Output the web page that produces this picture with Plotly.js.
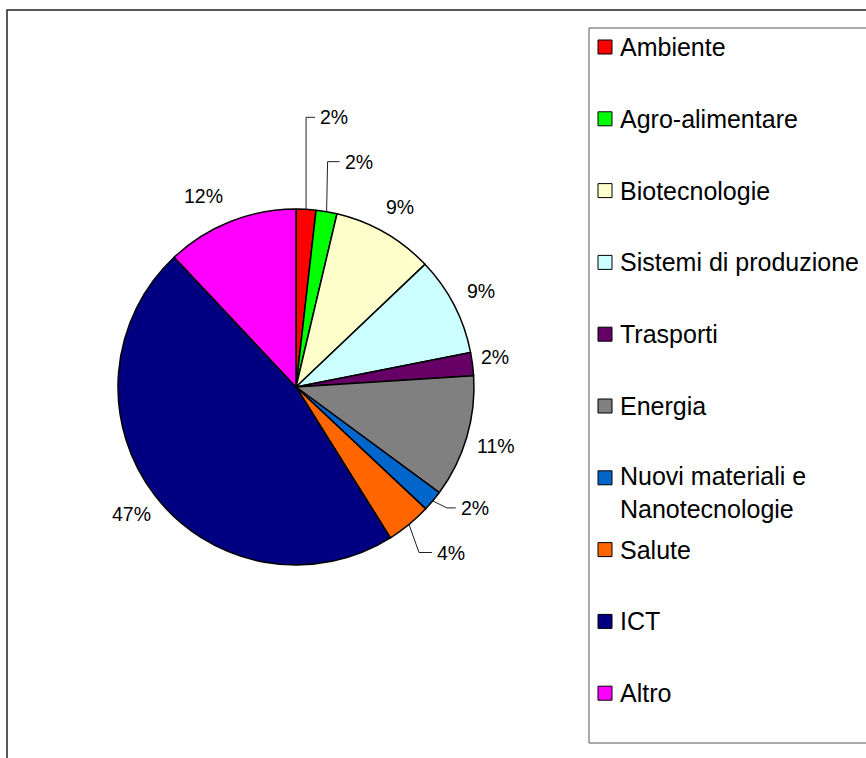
<!DOCTYPE html>
<html>
<head>
<meta charset="utf-8">
<script src="https://cdn.plot.ly/plotly-3.0.1.min.js"></script>
<style>html,body{margin:0;padding:0;background:#fff;}#chart{width:866px;height:758px;}</style>
</head>
<body>
<div id="chart"></div>
<script>
// ---- data ----
const categories = ["Ambiente", "Agro-alimentare", "Biotecnologie", "Sistemi di produzione", "Trasporti", "Energia", "Nuovi materiali e Nanotecnologie", "Salute", "ICT", "Altro"];
const values = [1.8, 1.9, 9.2, 9.0, 2.1, 11.1, 1.9, 4.1, 46.9, 12.0];
const colors = ["#FF0000", "#00FF00", "#FFFFCC", "#CCFFFF", "#660066", "#808080", "#0066CC", "#FF6600", "#000080", "#FF00FF"];

// ---- layout constants (pixels) ----
const W = 866, H = 758;
const CX = 296, CY = 387, R = 178;       // pie centre and radius
const LABEL_R = 208;                      // radius of label centres
const FONT = "Liberation Sans, Arial, sans-serif";
// leader-line labels: bend and end offsets from the slice edge point
const leaders = {
  0: {bend: [0, -92], end: [9, -92]},
  1: {bend: [1, -50], end: [13, -50]},
  6: {bend: [14, 7], end: [23, 7]},
  7: {bend: [10, 28], end: [23, 28]}
};
const nudges = {4: [-7, -3], 9: [-16, 2]};

function px(x) { return x / W; }
function py(y) { return 1 - y / H; }

const total = values.reduce((a, b) => a + b, 0);
const annotations = [];
const shapes = [];

// outer chart frame and legend box
shapes.push({type: "rect", xref: "paper", yref: "paper", x0: px(7), x1: px(W + 20), y0: py(10), y1: py(H + 20),
  line: {color: "#222", width: 1.5}, fillcolor: "rgba(0,0,0,0)", layer: "below"});
shapes.push({type: "rect", xref: "paper", yref: "paper", x0: px(589), x1: px(W + 20), y0: py(28), y1: py(743),
  line: {color: "#555", width: 1}, fillcolor: "rgba(0,0,0,0)", layer: "below"});

// pie labels
let cum = 0;
values.forEach((v, i) => {
  const mid = (cum + v / 2) / total * 2 * Math.PI;
  cum += v;
  const s = Math.sin(mid), c = Math.cos(mid);
  const text = Math.round(v / total * 100) + "%";
  const font = {family: FONT, size: 19.5, color: "#000"};
  if (leaders[i]) {
    const ex = CX + R * s, ey = CY - R * c;
    const b = leaders[i].bend, e = leaders[i].end;
    shapes.push({type: "path", xref: "paper", yref: "paper",
      path: `M ${px(ex)},${py(ey)} L ${px(ex + b[0])},${py(ey + b[1])} L ${px(ex + e[0])},${py(ey + e[1])}`,
      line: {color: "#222", width: 1}});
    annotations.push({xref: "paper", yref: "paper", x: px(ex + e[0] + 4), y: py(ey + e[1]),
      xanchor: "left", yanchor: "middle", text: text, showarrow: false, font: font, borderpad: 0});
  } else {
    const n = nudges[i] || [0, 0];
    annotations.push({xref: "paper", yref: "paper", x: px(CX + LABEL_R * s + n[0]), y: py(CY - LABEL_R * c + n[1]),
      xanchor: "center", yanchor: "middle", text: text, showarrow: false, font: font, borderpad: 0});
  }
});

// legend (drawn manually for Excel-like spacing)
const LEG_Y0 = 47, LEG_STEP = 71.8, LEG_FONT = 25, LINE_H = 30;
function wrap(name, maxChars) {
  const words = name.split(" ");
  const lines = [];
  let cur = "";
  words.forEach(w => {
    if (cur && (cur + " " + w).length > maxChars) { lines.push(cur); cur = w; }
    else cur = cur ? cur + " " + w : w;
  });
  if (cur) lines.push(cur);
  return lines;
}
categories.forEach((name, i) => {
  const yc = LEG_Y0 + i * LEG_STEP;
  shapes.push({type: "rect", xref: "paper", yref: "paper", x0: px(598), x1: px(612), y0: py(yc - 7), y1: py(yc + 7),
    fillcolor: colors[i], line: {color: "#000", width: 1}});
  const lines = wrap(name, 21);
  annotations.push({xref: "paper", yref: "paper", x: px(619), y: py(yc + (lines.length - 1) * LINE_H / 2),
    xanchor: "left", yanchor: "middle", align: "left", text: lines.join("<br>"), showarrow: false,
    font: {family: FONT, size: LEG_FONT, color: "#000"}, borderpad: 0});
});

const trace = {
  type: "pie",
  labels: categories,
  values: values,
  sort: false,
  direction: "clockwise",
  rotation: 0,
  textinfo: "none",
  hoverinfo: "label+percent",
  marker: {colors: colors, line: {color: "#000", width: 1.5}},
  domain: {x: [px(CX - R), px(CX + R)], y: [py(CY + R), py(CY - R)]},
  showlegend: false
};

const layout = {
  width: W, height: H,
  margin: {l: 0, r: 0, t: 0, b: 0},
  paper_bgcolor: "#fff",
  showlegend: false,
  font: {family: FONT},
  shapes: shapes,
  annotations: annotations
};

Plotly.newPlot("chart", [trace], layout, {displayModeBar: false, staticPlot: true});
</script>
</body>
</html>
